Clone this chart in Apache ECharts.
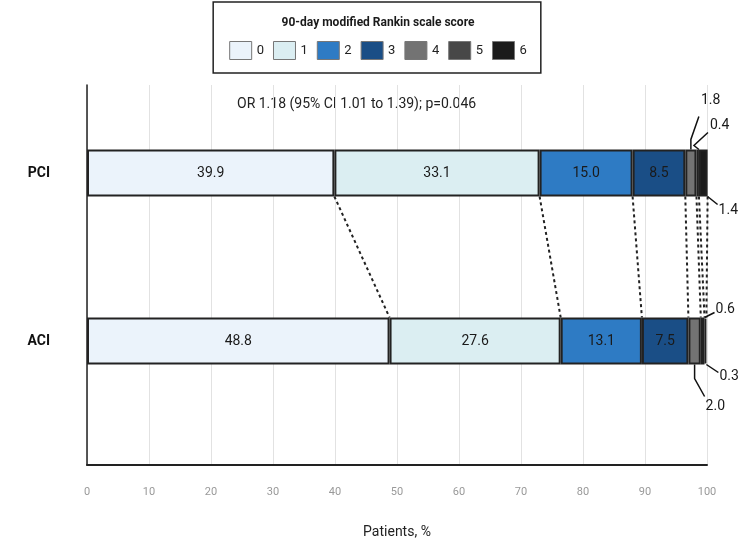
<!DOCTYPE html>
<html>
<head>
<meta charset="utf-8">
<script src="https://cdn.jsdelivr.net/npm/echarts@6/dist/echarts.min.js"></script>
<style>html,body{margin:0;padding:0;background:#fff}#c{width:756px;height:544px}</style>
</head>
<body>
<div id="c"></div>
<script>
// ---- data ----
const groups = ['ACI', 'PCI'];            // bottom to top
const scores = ['0', '1', '2', '3', '4', '5', '6'];
const pciValues = [39.9, 33.1, 15.0, 8.5, 1.8, 0.4, 1.4];
const aciValues = [48.8, 27.6, 13.1, 7.5, 2.0, 0.6, 0.3];
const xTicks = [0, 10, 20, 30, 40, 50, 60, 70, 80, 90, 100];
const legendTitle = '90-day modified Rankin scale score';
const statText = 'OR 1.18 (95% CI 1.01 to 1.39); p=0.046';
const xAxisName = 'Patients, %';

// ---- styles ----
const colors = ['#EBF3FB', '#DBEEF2', '#2E7BC4', '#1A4E86', '#737373', '#474747', '#1B1B1B'];
const FONT = 'Roboto';
const BAR_W = 47;
const LEFT = 87, RIGHT = 49;

function cum(arr) { let s = 0; return arr.map(v => (s += v)); }
const pciCum = cum(pciValues), aciCum = cum(aciValues);

// small-value annotations: which group/score, anchor and leader path (pixel offsets)
const annos = [
  { g: 1, s: 4, at: 'mid', side: 'top', path: [[0, 0], [0, -10], [8, -33]], tx: 10, ty: -49 },
  { g: 1, s: 5, at: 'end', side: 'top', path: [[0, 0], [-5, -4], [9, -17]], tx: 11, ty: -24 },
  { g: 1, s: 6, at: 'end', side: 'bottom', path: [[0, 0], [10, 8]], tx: 11, ty: 14 },
  { g: 0, s: 5, at: 'end', side: 'top', path: [[0, 0], [10, -5]], tx: 11, ty: -8 },
  { g: 0, s: 6, at: 'end', side: 'bottom', path: [[0, 0], [12, 8]], tx: 13, ty: 12 },
  { g: 0, s: 4, at: 'mid', side: 'bottom', path: [[0, 0], [0, 14], [10, 32]], tx: 11, ty: 42 }
];

const chart = echarts.init(document.getElementById('c'), null, { renderer: 'canvas' });

const barSeries = scores.map((sc, i) => ({
  name: sc,
  type: 'bar',
  stack: 'mrs',
  xAxisIndex: 1,
  yAxisIndex: 1,
  barWidth: BAR_W,
  data: [aciValues[i], pciValues[i]],
  itemStyle: { color: colors[i], borderColor: '#222', borderWidth: 2 },
  label: {
    show: i < 4,
    position: 'inside',
    color: '#1a1a1a',
    fontFamily: FONT,
    fontSize: 14,
    formatter: p => p.value.toFixed(1)
  },
  emphasis: { disabled: true },
  z: 3
}));

const connectorSeries = {
  type: 'custom',
  xAxisIndex: 1,
  yAxisIndex: 1,
  silent: true,
  z: 2,
  data: pciCum.map((v, i) => [v, aciCum[i]]),
  renderItem: function (params, api) {
    const a = api.coord([api.value(0), 1]);
    const b = api.coord([api.value(1), 0]);
    return {
      type: 'line',
      shape: { x1: a[0], y1: a[1] + BAR_W / 2, x2: b[0], y2: b[1] - BAR_W / 2 },
      style: { stroke: '#222', lineWidth: 2, lineDash: [3, 3] }
    };
  }
};

const annoSeries = {
  type: 'custom',
  xAxisIndex: 1,
  yAxisIndex: 1,
  silent: true,
  z: 4,
  data: annos.map(a => {
    const vals = a.g === 1 ? pciValues : aciValues;
    const cs = a.g === 1 ? pciCum : aciCum;
    const x = a.at === 'mid' ? cs[a.s] - vals[a.s] / 2 : cs[a.s];
    return [x, a.g];
  }),
  renderItem: function (params, api) {
    const a = annos[params.dataIndex];
    const vals = a.g === 1 ? pciValues : aciValues;
    const c = api.coord([api.value(0), api.value(1)]);
    const y0 = a.side === 'top' ? c[1] - BAR_W / 2 : c[1] + BAR_W / 2;
    const pts = a.path.map(p => [c[0] + p[0], y0 + p[1]]);
    return {
      type: 'group',
      children: [
        { type: 'polyline', shape: { points: pts }, style: { stroke: '#111', lineWidth: 1.5, fill: null } },
        { type: 'text', x: c[0] + a.tx, y: y0 + a.ty,
          style: { text: vals[a.s].toFixed(1), fill: '#1a1a1a', font: '14px ' + FONT, textAlign: 'left', textVerticalAlign: 'middle' } }
      ]
    };
  }
};

chart.setOption({
  animation: false,
  textStyle: { fontFamily: FONT },
  title: {
    text: legendTitle,
    left: 'center',
    top: 12,
    textStyle: { fontSize: 12, fontWeight: 'bold', color: '#1a1a1a', fontFamily: FONT }
  },
  legend: {
    data: scores,
    top: 2,
    left: 'center',
    orient: 'horizontal',
    padding: [39, 14, 13, 16],
    borderColor: '#222',
    borderWidth: 1.5,
    itemWidth: 22,
    itemHeight: 18,
    itemGap: 9,
    icon: 'rect',
    selectedMode: false,
    itemStyle: { borderColor: '#777', borderWidth: 1 },
    textStyle: { fontSize: 13, color: '#222', fontFamily: FONT }
  },
  graphic: [{
    type: 'text',
    left: LEFT + (756 - LEFT - RIGHT) / 2 - 160,
    top: 97,
    style: { text: statText, fill: '#222', font: '14px ' + FONT }
  }],
  grid: [
    { left: LEFT, right: RIGHT, top: 85, bottom: 79 },
    { left: LEFT, right: RIGHT, top: 89, bottom: 119 }
  ],
  xAxis: [
    {
      gridIndex: 0, type: 'value', min: 0, max: 100, interval: 10,
      axisLine: { show: true, lineStyle: { color: '#222', width: 2 } },
      axisTick: { show: false },
      axisLabel: { color: '#999', fontSize: 11, margin: 22, fontFamily: FONT,
        formatter: v => xTicks.indexOf(v) >= 0 ? String(v) : '' },
      splitLine: { show: true, lineStyle: { color: '#e2e2e2', width: 1 } },
      name: xAxisName, nameLocation: 'middle', nameGap: 60,
      nameTextStyle: { fontSize: 14, color: '#222', fontFamily: FONT }
    },
    { gridIndex: 1, type: 'value', min: 0, max: 100, show: false }
  ],
  yAxis: [
    {
      gridIndex: 0, type: 'value', min: 0, max: 1,
      axisLine: { show: true, lineStyle: { color: '#222', width: 1.5 } },
      axisTick: { show: false }, axisLabel: { show: false }, splitLine: { show: false }
    },
    {
      gridIndex: 1, type: 'category', data: groups,
      axisLine: { show: false }, axisTick: { show: false }, splitLine: { show: false },
      axisLabel: { fontSize: 14, fontWeight: 'bold', color: '#111', margin: 37, fontFamily: FONT }
    }
  ],
  series: [...barSeries, connectorSeries, annoSeries]
});
</script>
</body>
</html>
